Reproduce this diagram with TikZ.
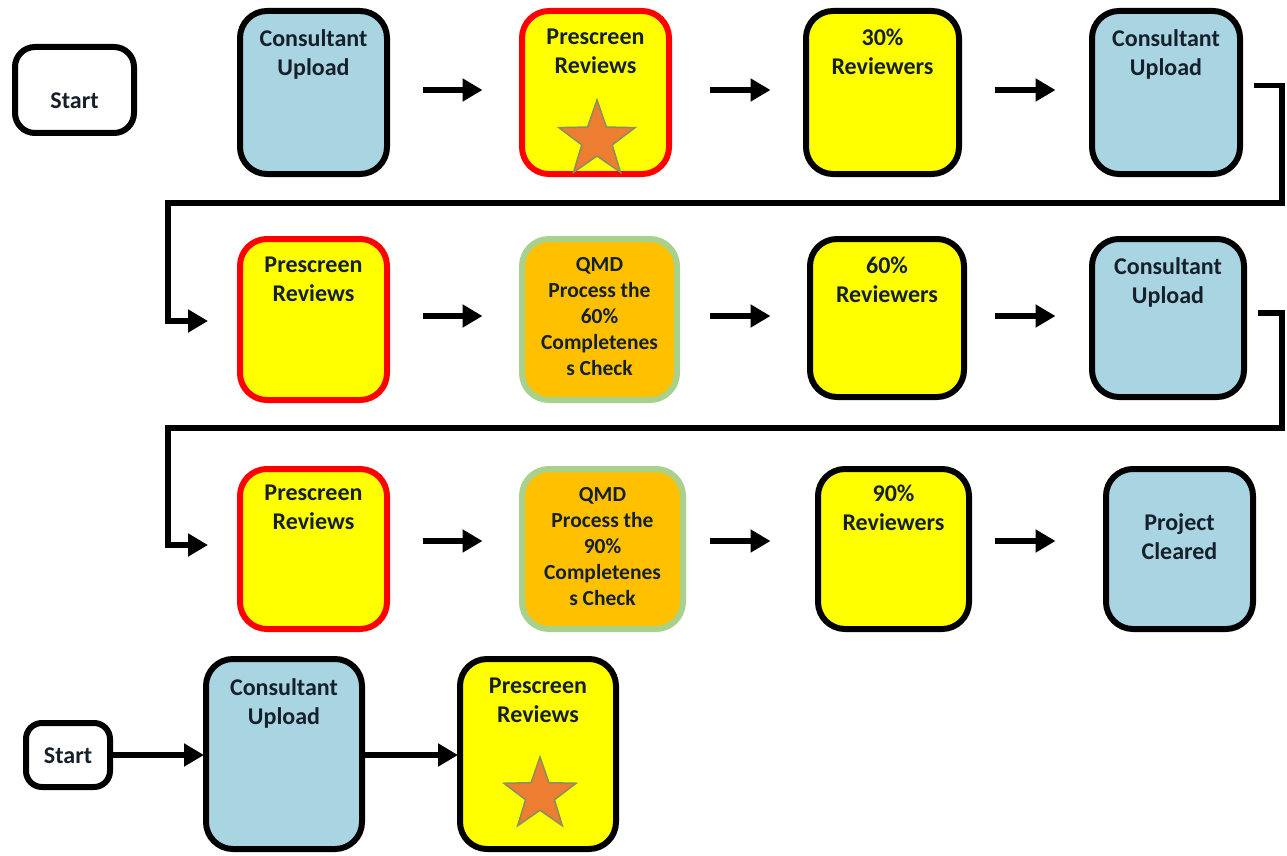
\documentclass[tikz,border=0pt]{standalone}
\usepackage{fontspec}
\setmainfont{Carlito}
\usetikzlibrary{shapes.geometric,arrows.meta,calc}
\definecolor{lblue}{HTML}{A9D5E3}
\definecolor{yel}{HTML}{FFFF00}
\definecolor{org}{HTML}{FFC000}
\definecolor{grn}{HTML}{A9D18E}
\definecolor{redb}{HTML}{FF0000}
\definecolor{txt}{HTML}{15202A}
\definecolor{starfill}{HTML}{ED7D31}
\definecolor{starline}{HTML}{8A8F62}
\begin{document}
\begin{tikzpicture}[x=1pt,y=-1pt,
  box/.style={rectangle, rounded corners=27pt, line width=6pt, inner sep=0pt, outer sep=0pt},
  blu/.style={box, fill=lblue, draw=black},
  ylw/.style={box, fill=yel, draw=black},
  prs/.style={box, fill=yel, draw=redb},
  qmd/.style={box, fill=org, draw=grn},
  wht/.style={box, fill=white, draw=black, rounded corners=20pt},
  lbl/.style={font=\fontsize{24}{29}\selectfont\bfseries, text=txt, align=center, anchor=north, inner sep=0pt},
  qlbl/.style={font=\fontsize{21.5}{26}\selectfont\bfseries, text=txt, align=center, anchor=north, inner sep=0pt},
  slbl/.style={font=\fontsize{24}{29}\selectfont\bfseries, text=txt, inner sep=0pt},
  arr/.style={line width=6pt, -{Triangle[length=20pt,width=22pt]}},
  conn/.style={line width=5.5pt, -{Triangle[length=20pt,width=22pt]}},
  starry/.style={star, star points=5, star point ratio=2.5, inner sep=0pt, fill=starfill, draw=starline, line width=1.5pt}
]
\useasboundingbox (0,0) rectangle (1287,856);
% row 1
\node[wht, minimum width=119pt, minimum height=86pt] (s1) at (74.5,90) {};
\node[blu, minimum width=147pt, minimum height=163pt] (u1) at (313.5,92.5) {};
\node[prs, minimum width=147pt, minimum height=163pt] (p1) at (595.5,92.5) {};
\node[ylw, minimum width=153pt, minimum height=163pt] (r1) at (882.5,92.5) {};
\node[blu, minimum width=148pt, minimum height=163pt] (u2) at (1166,92.5) {};
% row 2
\node[prs, minimum width=147pt, minimum height=161pt] (p2) at (313.5,319.5) {};
\node[qmd, minimum width=155pt, minimum height=161pt] (q1) at (599.5,319.5) {};
\node[ylw, minimum width=154pt, minimum height=158pt] (r2) at (887,318) {};
\node[blu, minimum width=152pt, minimum height=158pt] (u3) at (1168,318) {};
% row 3
\node[prs, minimum width=147pt, minimum height=160pt] (p3) at (313.5,549) {};
\node[qmd, minimum width=161pt, minimum height=160pt] (q2) at (602.5,549) {};
\node[ylw, minimum width=151pt, minimum height=160pt] (r3) at (893.5,549) {};
\node[blu, minimum width=147pt, minimum height=160pt] (c1) at (1179.5,549) {};
% row 4
\node[wht, minimum width=84pt, minimum height=64pt, rounded corners=16pt] (s2) at (68,755) {};
\node[blu, minimum width=156pt, minimum height=190pt] (u4) at (284,754) {};
\node[ylw, minimum width=156pt, minimum height=190pt] (p4) at (538,754) {};
% stars
\node[starry, minimum size=80pt] (st1) at (597,140) {};
\node[starry, minimum size=76pt] (st2) at (540,795) {};
% labels
\node[slbl] (s1t) at (74.5,101) {Start};
\node[lbl] (u1t) at ($(u1.north)+(0,18)$) {Consultant\\Upload};
\node[lbl] (p1t) at ($(p1.north)+(0,18)$) {Prescreen\\Reviews};
\node[lbl] (r1t) at ($(r1.north)+(0,18)$) {30\%\\Reviewers};
\node[lbl] (u2t) at ($(u2.north)+(0,18)$) {Consultant\\Upload};
\node[lbl] (p2t) at ($(p2.north)+(0,18)$) {Prescreen\\Reviews};
\node[qlbl] (q1t) at ($(q1.north)+(0,18)$) {QMD\\Process the\\60\%\\Completenes\\s Check};
\node[lbl] (r2t) at ($(r2.north)+(0,18)$) {60\%\\Reviewers};
\node[lbl] (u3t) at ($(u3.north)+(0,18)$) {Consultant\\Upload};
\node[lbl] (p3t) at ($(p3.north)+(0,16)$) {Prescreen\\Reviews};
\node[qlbl] (q2t) at ($(q2.north)+(0,18)$) {QMD\\Process the\\90\%\\Completenes\\s Check};
\node[lbl] (r3t) at ($(r3.north)+(0,16)$) {90\%\\Reviewers};
\node[lbl] (c1t) at ($(c1.north)+(0,44)$) {Project\\Cleared};
\node[slbl] (s2t) at (68,756) {Start};
\node[lbl] (u4t) at ($(u4.north)+(0,19)$) {Consultant\\Upload};
\node[lbl] (p4t) at ($(p4.north)+(0,19)$) {Prescreen\\Reviews};
% row arrows
\draw[arr, shorten <=35.5pt, shorten >=39.5pt] ([yshift=2.5pt]u1.east) -- ([yshift=2.5pt]p1.west);
\draw[arr, shorten <=40.5pt, shorten >=35.5pt] ([yshift=2.5pt]p1.east) -- ([yshift=2.5pt]r1.west);
\draw[arr, shorten <=35.5pt, shorten >=36.5pt] ([yshift=2.5pt]r1.east) -- ([yshift=2.5pt]u2.west);
\draw[arr, shorten <=35.5pt, shorten >=39.5pt] ([yshift=3.5pt]p2.east) -- ([yshift=3.5pt]q1.west);
\draw[arr, shorten <=32.5pt, shorten >=39.5pt] ([yshift=3.5pt]q1.east) -- ([yshift=2pt]r2.west);
\draw[arr, shorten <=30.5pt, shorten >=36.5pt] ([yshift=2pt]r2.east) -- ([yshift=2pt]u3.west);
\draw[arr, shorten <=35.5pt, shorten >=39.5pt] ([yshift=8pt]p3.east) -- ([yshift=8pt]q2.west);
\draw[arr, shorten <=26.5pt, shorten >=47.5pt] ([yshift=8pt]q2.east) -- ([yshift=8pt]r3.west);
\draw[arr, shorten <=25.5pt, shorten >=50.5pt] ([yshift=8pt]r3.east) -- ([yshift=8pt]c1.west);
\draw[arr, shorten >=2pt] (s2.east) -- (u4.west |- s2.east);
\draw[arr, shorten >=2pt] (u4.east |- s2.east) -- (p4.west |- s2.east);
% wrap connectors
\coordinate (a1) at (1282,203);
\coordinate (a2) at (168,203);
\coordinate (b1) at (1282,428);
\coordinate (b2) at (168,428);
\draw[conn, shorten >=32pt] ([xshift=14pt,yshift=7pt]u2.east) -| (a1) -- (a2) |- ([yshift=-1.5pt]p2.west);
\draw[conn, shorten >=32pt] ([xshift=14pt,yshift=5pt]u3.east) -| (b1) -- (b2) |- ([yshift=4pt]p3.west);
\end{tikzpicture}
\end{document}
